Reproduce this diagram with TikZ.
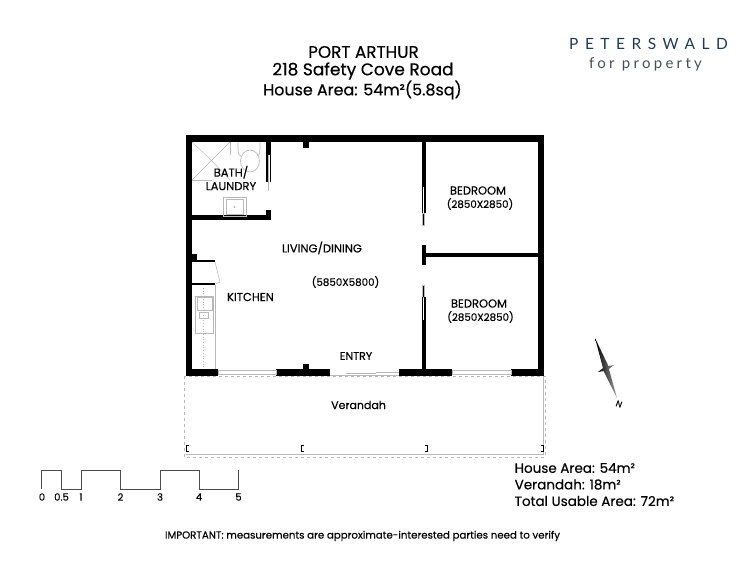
\documentclass[tikz,border=0pt]{standalone}
\usepackage{fontspec}
\setmainfont[UprightFeatures={FakeBold=0.35}]{Poppins}
\newfontfamily\logofont[LetterSpace=42]{Lato}
\newfontfamily\logosub[LetterSpace=22]{Lato}
\definecolor{fixture}{gray}{0.72}
\definecolor{logonavy}{HTML}{1F3A57}
\definecolor{logogrey}{HTML}{4A4F55}
\tikzset{
  wall/.style={fill=black,draw=none},
  fixture/.style={draw=fixture,line width=0.7pt},
  glass/.style={draw=fixture,fill=white,line width=0.8pt},
  room/.style={font=\fontsize{11.5}{13}\selectfont,align=center,inner sep=0pt},
  size/.style={font=\fontsize{10.3}{12}\selectfont,inner sep=0pt},
  title/.style={font=\fontsize{17}{19}\selectfont,inner sep=0pt},
  area/.style={font=\fontsize{13.5}{15}\selectfont,anchor=west,inner sep=0pt},
  tick/.style={font=\fontsize{10}{10}\selectfont,inner sep=0pt},
  bracket/.style={draw=black,line width=0.8pt}
}
\begin{document}
\begin{tikzpicture}[x=1pt,y=-1pt]
        \useasboundingbox (0,0) rectangle (750,580);

        \node[title,font=\fontsize{16.8}{19}\selectfont] (name) at (363.5, 52) { PORT ARTHUR };
        \node[title] (road) at (363, 71) { 218 Safety Cove Road };
        \node[title,font=\fontsize{15.9}{19}\selectfont] (house) at (362.5, 90) { House Area: 54m²(5.8sq) };

        \node[inner sep=0pt,text=logonavy] (logo) at (648.5, 44) { \logofont\fontsize{15.5}{17}\selectfont PETERSWALD };
        \node[inner sep=0pt,text=logogrey] (logosub) at (645.5, 64) { \logosub\fontsize{15}{17}\selectfont for property };

        % verandah
        \draw[fixture,dashed,line width=0.5pt] (184, 376) rectangle (545, 457);
        \draw[fixture,line width=0.4pt] (186, 454) -- (543, 454) -- (543, 376);
        \draw[bracket] (189, 445) -- (186.5, 445) -- (186.5, 451.5) -- (189, 451.5);
        \draw[bracket] (304, 445) -- (301.5, 445) -- (301.5, 451.5) -- (304, 451.5);
        \draw[bracket] (425, 445) -- (427.5, 445) -- (427.5, 451.5) -- (425, 451.5);
        \draw[bracket] (541, 445) -- (543.5, 445) -- (543.5, 451.5) -- (541, 451.5);

        % outer walls
        \fill[wall] (185.5, 135) rectangle (544, 142);
        \fill[wall] (185.5, 135) rectangle (191.5, 376);
        \fill[wall] (538, 135) rectangle (544, 376);
        \fill[wall] (185.5, 369) rectangle (218, 376);
        \fill[wall] (276, 369) rectangle (330, 376);
        \fill[wall] (399, 369) rectangle (452, 376);
        \fill[wall] (511, 369) rectangle (544, 376);

        % posts and stubs
        \fill[wall] (303, 142) rectangle (309, 148);
        \fill[wall] (303, 364) rectangle (309, 369);
        \fill[wall] (191, 254) rectangle (197, 260);

        % bath walls
        \fill[wall] (191, 215.5) rectangle (271, 220);
        \fill[wall] (266, 210) rectangle (271, 220);
        \fill[wall] (266, 142) rectangle (271, 155);
        \fill[wall] (266, 155) rectangle (267.5, 182);
        \fill[wall] (269.5, 155) rectangle (271, 182);
        \draw[fixture] (268.5, 155) -- (268.5, 191);

        % bedroom walls
        \fill[wall] (421.5, 142) rectangle (425.5, 187);
        \fill[wall] (421.5, 187) rectangle (422.8, 213);
        \fill[wall] (424.2, 187) rectangle (425.5, 213);
        \fill[fixture] (422.5, 213) rectangle (424.5, 225);
        \fill[wall] (421.5, 245) rectangle (425.5, 265);
        \fill[wall] (425, 253) rectangle (538, 257);
        \fill[fixture] (422.5, 285) rectangle (424.5, 297);
        \fill[wall] (421.5, 297) rectangle (422.8, 320);
        \fill[wall] (424.2, 297) rectangle (425.5, 320);
        \fill[wall] (421.5, 320) rectangle (425.5, 369);

        % windows and door
        \draw[glass] (218, 370.5) rectangle (276, 374.5);
        \draw[glass] (452, 370.5) rectangle (511, 374.5);
        \draw[fixture,line width=0.5pt] (330, 375) -- (399, 375);
        \draw[fixture,line width=1.2pt] (346, 373.5) -- (376, 373.5);
        \draw[fixture,line width=0.7pt] (376, 372) -- (399, 372);

        % shower
        \draw[fixture,line width=0.4pt] (192, 180) -- (230, 142) (192, 142) -- (212, 161) -- (230, 180);
        \draw[fixture,line width=0.4pt] (230, 142) -- (230, 155) (192, 180) -- (212, 180);

        % toilet
        \draw[fixture] (238, 142) -- (238, 149) .. controls (238, 155) and (240, 156) .. (241, 156);
        \draw[fixture] (260, 142) -- (260, 149) .. controls (260, 155) and (258, 156) .. (257, 156);
        \draw[fixture] (250, 161) ellipse [x radius=9.5, y radius=11];

        % basin
        \draw[fixture] (223, 197) rectangle (246, 216);
        \draw[fixture,line width=0.4pt] (226, 199) rectangle (243, 214);
        \fill[fixture] (234.5, 207) circle (0.6);

        % kitchen
        \fill[wall] (191, 260) rectangle (215, 262);
        \fill[wall] (191, 283) rectangle (215, 285);
        \draw[fixture,line width=0.5pt] (215, 262) -- (220, 282) -- (215, 284);
        \draw[fixture] (215, 285) -- (215, 369);
        \draw[fixture,dotted] (203, 288) -- (203, 369);
        \draw[fixture,line width=0.5pt] (195.5, 296) rectangle (213, 333);
        \draw[fixture,line width=0.5pt] (197, 297) rectangle (212, 310);
        \draw[fixture,line width=0.5pt] (199, 312) rectangle (208, 318);

        % room labels
        \node[room] (bath) at (231, 178) { BATH/\\[0.5pt]LAUNDRY };
        \node[room] (living) at (323.5, 248) { LIVING/DINING };
        \node[size] (livingsize) at (345.5, 282) { (5850X5800) };
        \node[room] (kitchen) at (252, 297) { KITCHEN };
        \node[room,font=\fontsize{11}{13}\selectfont] (entry) at (357.5, 356) { ENTRY };
        \node[room] (bedone) at (479.5, 190.5) { BEDROOM };
        \node[size] (bedonesize) at (480, 204) { (2850X2850) };
        \node[room] (bedtwo) at (480.5, 303.5) { BEDROOM };
        \node[size] (bedtwosize) at (480.5, 317) { (2850X2850) };
        \node[room,font=\fontsize{11}{13}\selectfont] (verandah) at (360, 405) { Verandah };

        % compass
        \shade[left color=black,right color=white!60!black] (595, 338) -- (607.5, 364) -- (617, 398) -- (604, 372) -- cycle;
        \shade[left color=black,right color=white!60!black] (598, 372) -- (605, 366.5) -- (614, 365) -- (607, 370.5) -- cycle;
        \node[rotate=-20,inner sep=0pt,font=\fontsize{8.5}{9}\selectfont] (north) at (619, 404) { N };

        % scale bar
        \draw[draw=black!70,line width=0.8pt] (41.7, 489) -- (41.7, 470) -- (61.7, 470) -- (61.7, 489) -- (81, 489) -- (81, 470) -- (120.5, 470) -- (120.5, 489) -- (160, 489) -- (160, 470) -- (199, 470) -- (199, 489) -- (238.5, 489) -- (238.5, 470);
        \node[tick] (s0) at (42, 497) { 0 };
        \node[tick] (s05) at (61.5, 497) { 0.5 };
        \node[tick] (s1) at (81, 497) { 1 };
        \node[tick] (s2) at (120.5, 497) { 2 };
        \node[tick] (s3) at (160, 497) { 3 };
        \node[tick] (s4) at (199, 497) { 4 };
        \node[tick] (s5) at (238.5, 497) { 5 };

        \node[area] (areahouse) at (514.5, 468) { House Area: 54m² };
        \node[area] (areaver) at (514.5, 484.5) { Verandah: 18m² };
        \node[area] (areatotal) at (514.5, 501) { Total Usable Area: 72m² };

        \node[inner sep=0pt,font=\fontsize{10.2}{12}\selectfont] (note) at (362.5, 536) { IMPORTANT: measurements are approximate-interested parties need to verify };
    \end{tikzpicture}
\end{document}
